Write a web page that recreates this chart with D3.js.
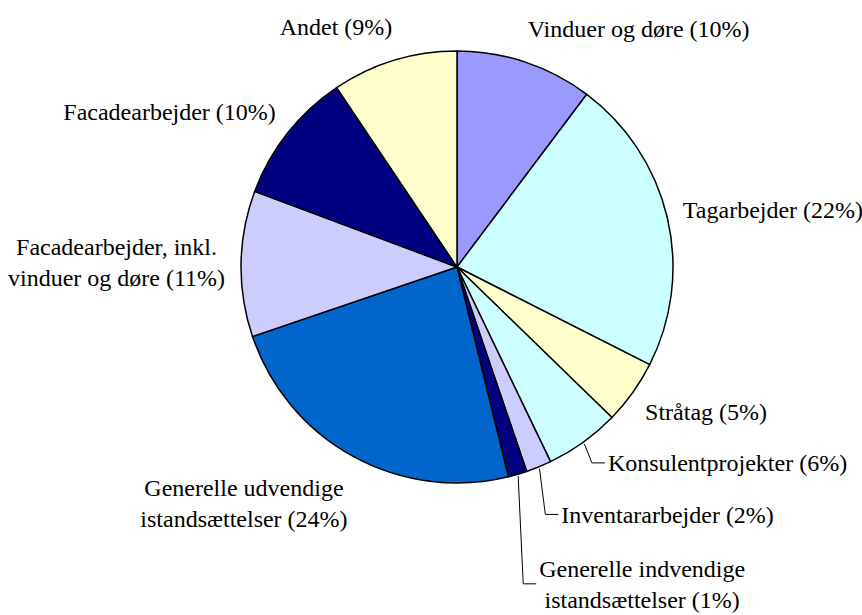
<!DOCTYPE html>
<html>
<head>
<meta charset="utf-8">
<script src="https://cdn.jsdelivr.net/npm/d3@7"></script>
<style>
  html, body { margin: 0; padding: 0; background: #fff; }
</style>
</head>
<body>
<svg id="chart" width="862" height="615"></svg>
<script>
// Slices, clockwise from 12 o'clock
const categories = [
  'Vinduer og døre',
  'Tagarbejder',
  'Stråtag',
  'Konsulentprojekter',
  'Inventararbejder',
  'Generelle indvendige\nistandsættelser',
  'Generelle udvendige\nistandsættelser',
  'Facadearbejder, inkl.\nvinduer og døre',
  'Facadearbejder',
  'Andet'
];
const shares = [10.25, 22.2, 4.8, 5.6, 1.9, 1.4, 23.6, 10.9, 9.9, 9.4];
const colors = ['#9999FF', '#CCFFFF', '#FFFFCC', '#CCFFFF', '#CCCCFF',
                '#000080', '#0066CC', '#CCCCFF', '#000080', '#FFFFCC'];

// labels that were dragged away from the pie get a leader line
const nudges = {
  3: { dx: 17, dy: -6 },
  4: { dx: 19, dy: 17 },
  5: { dx: 20, dy: 63 },
  6: { dx: 0, dy: 4 }
};

const cx = 457, cy = 267, radius = 216;
const lineH = 31;
const FONT = "'Liberation Serif', 'Times New Roman', serif";

const svg = d3.select('#chart');
const g = svg.append('g').attr('transform', `translate(${cx},${cy})`);

const total = d3.sum(shares);
const pct = d3.format('.0%');

const pie = d3.pie().sort(null).value(d => d.v);
const arc = d3.arc().innerRadius(0).outerRadius(radius);
const arcs = pie(shares.map((v, i) => ({ v, i, name: categories[i] })));

g.append('g').selectAll('path')
  .data(arcs)
  .join('path')
    .attr('d', arc)
    .attr('fill', d => colors[d.data.i])
    .attr('stroke', '#000')
    .attr('stroke-width', 1.5)
    .attr('stroke-linejoin', 'round');

const leaderG = g.append('g');
const labelG = g.append('g');

arcs.forEach(d => {
  const a = (d.startAngle + d.endAngle) / 2;
  const s = Math.sin(a), c = Math.cos(a);
  const lines = (d.data.name + ' (' + pct(d.data.v / total) + ')').split('\n');
  const n = lines.length;
  const boxH = 28 + (n - 1) * lineH;

  // anchor point just outside the rim
  const px = (radius + 20) * s;
  const py = -(radius + 20) * c;
  const nud = nudges[d.data.i] || { dx: 0, dy: 0 };
  const right = s >= 0;

  const text = labelG.append('text')
    .attr('text-anchor', 'middle')
    .attr('font-family', FONT)
    .attr('font-size', 24)
    .attr('fill', '#000');
  lines.forEach(t => text.append('tspan').text(t));

  // measure widest line to centre multi-line blocks
  const widths = [];
  text.selectAll('tspan').each(function () { widths.push(this.getComputedTextLength()); });
  const w = d3.max(widths);

  let left = right ? px - 4 : px + 4 - w;
  let midY = py - (boxH / 2) * c;
  left += nud.dx;
  midY += nud.dy;
  const firstBase = midY - (n - 1) * lineH / 2 + 7.5;

  text.selectAll('tspan')
    .attr('x', left + w / 2)
    .attr('y', (t, k) => firstBase + k * lineH);

  if (nud.dx > 10) {
    const sx = (radius + 2) * s, sy = -(radius + 2) * c;
    leaderG.append('polyline')
      .attr('points', [[sx, sy], [left - 16, midY - 1], [left - 3, midY - 1]].join(' '))
      .attr('fill', 'none')
      .attr('stroke', '#000')
      .attr('stroke-width', 1);
  }
});
</script>
</body>
</html>
